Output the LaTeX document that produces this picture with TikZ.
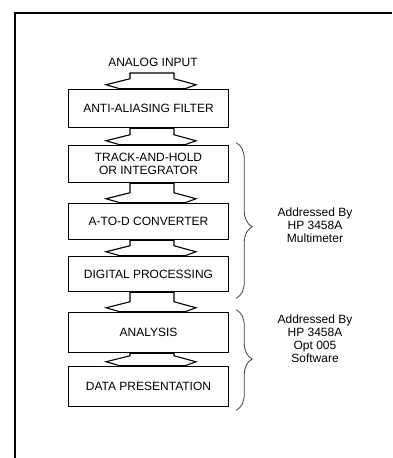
\documentclass[tikz,border=0pt]{standalone}
\usepackage{fontspec}
\setmainfont{Liberation Sans}
\usetikzlibrary{calc,backgrounds,decorations.pathreplacing}

\tikzset{
  stage/.style={draw, line width=1.5pt, fill=white, minimum width=160pt, align=center, inner sep=2pt,
                font=\fontsize{12}{13.5}\selectfont},
  fatarr/.style={draw, line width=1.1pt, fill=white, line join=miter},
  addr/.style={align=center, font=\fontsize{12}{13}\selectfont},
  span/.style={decorate, decoration={brace, amplitude=16pt}, line width=0.8pt, black!75}
}
% block arrow from the bottom of one stage to the top of the next
\newcommand{\fatarrow}[2]{%
  \draw[fatarr] ($(#1)+(-18.5,0)$) -- ($(#2)+(-18.5,-10)$) -- ($(#2)+(-42.5,-4)$) -- ($(#2)+(-28.5,0)$)
    -- ($(#2)+(36.5,0)$) -- ($(#2)+(47.5,-4)$) -- ($(#2)+(25.5,-10)$) -- ($(#1)+(25.5,0)$) -- cycle;}

\begin{document}
\begin{tikzpicture}[x=1pt, y=-1pt]
  \useasboundingbox (0,0) rectangle (392,458);
  \draw[line width=1.3pt] (392,13) -- (15,13) -- (15,458);

  \node (input) at (153,62) [font=\fontsize{12}{13}\selectfont] {ANALOG INPUT};
  \coordinate (inarr) at (148.5,73);

  \node[stage, minimum height=38pt] (filt) at (148.5,108.5) {ANTI-ALIASING FILTER};
  \node[stage, minimum height=37pt] (trk)  at (148.5,164)   {TRACK-AND-HOLD\\OR INTEGRATOR};
  \node[stage, minimum height=36pt] (adc)  at (148.5,221.5) {A-TO-D CONVERTER};
  \node[stage, minimum height=35pt] (dsp)  at (148.5,274)   {DIGITAL PROCESSING};
  \node[stage, minimum height=40pt] (anl)  at (148.5,332.5) {ANALYSIS};
  \node[stage, minimum height=40pt] (pres) at (148.5,386.5) {DATA PRESENTATION};

  \begin{pgfonlayer}{background}
    \fatarrow{inarr}{filt.north}
    \fatarrow{filt.south}{trk.north}
    \fatarrow{trk.south}{adc.north}
    \fatarrow{adc.south}{dsp.north}
    \fatarrow{dsp.south}{anl.north}
    \fatarrow{anl.south}{pres.north}
  \end{pgfonlayer}

  % what does which part
  \draw[span, decoration={aspect=0.54}] ($(trk.north east)+(7,-2)$) -- ($(dsp.south east)+(7,6)$);
  \draw[span, decoration={aspect=0.49}] ($(anl.north east)+(7,-2)$) -- ($(pres.south east)+(7,3)$);

  \node[addr] (meter) at (315,225)   {Addressed By\\HP 3458A\\Multimeter};
  \node[addr] (soft)  at (315,338.5) {Addressed By\\HP 3458A\\Opt 005\\Software};
\end{tikzpicture}
\end{document}
